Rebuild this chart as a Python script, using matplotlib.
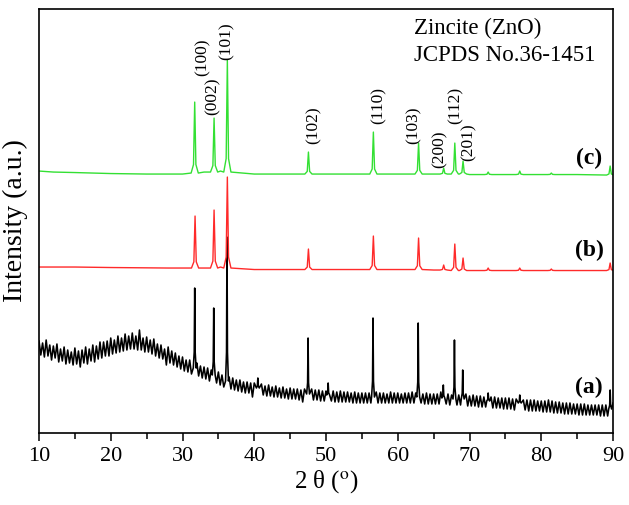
import matplotlib
matplotlib.use("Agg")
import matplotlib.pyplot as plt
import numpy as np
from matplotlib.ticker import MultipleLocator

plt.rcParams['font.family'] = ['Liberation Serif', 'DejaVu Serif']
plt.rcParams['mathtext.fontset'] = 'stix'

# (c) green trace: smooth baseline + peaks
c_base_x = [10, 12, 15, 20, 25, 30, 33.0, 35.3, 40, 45, 50, 55, 60, 65, 70, 75, 80, 85, 90]
c_base_y = [262, 261, 260.5, 259.5, 259, 259, 261, 262, 259, 259, 259, 259, 259, 259, 258.5, 258.5, 258.5, 258.5, 258]
c_peak_pos = [31.7, 34.4, 36.25, 47.55, 56.6, 62.9, 66.4, 67.95, 69.1, 72.6, 77.0, 81.4, 89.6]
c_peak_top = [331, 315, 373, 281, 301, 290, 265, 290, 272, 261, 262, 260, 267]
c_peak_foot = [260, 261, 261, 259, 259, 259, 259, 259, 259, 258.5, 258.5, 258.5, 258]

# (b) red trace
b_base_x = [10, 15, 20, 28, 33.0, 35.3, 40, 45, 50, 55, 60, 65, 70, 75, 80, 85, 90]
b_base_y = [166, 166, 165.5, 165, 165, 166, 163.5, 163.5, 163.5, 163.5, 163.5, 163, 162.5, 162.5, 162.5, 162.5, 162.5]
b_peak_pos = [31.75, 34.4, 36.25, 47.55, 56.6, 62.9, 66.4, 67.95, 69.1, 72.6, 77.0, 81.4, 89.6]
b_peak_top = [217, 223, 256, 184, 197, 195, 168, 189, 175, 165, 165, 164, 170]
b_peak_foot = [165, 165, 165, 163.5, 163.5, 163.5, 163, 162.5, 162.5, 162.5, 162.5, 162.5, 162.5]

# (a) black trace: noisy amorphous hump
# upper noise readings at 10, 10.5, ... 90 and lower readings at 10.25, 10.75, ... 89.75
a_hi = [92, 90, 93, 88, 87, 89, 84, 86, 83, 81, 85, 82, 83, 86, 84, 88, 87, 91, 91, 92,
        95, 93, 97, 95, 99, 97, 100, 97, 103, 95, 96, 93, 94, 89, 88, 84, 86, 82, 80, 77,
        76, 73, 73, 70, 70, 67, 66, 65, 63, 61, 61, 58, 57, 56, 55, 53, 53, 51, 51, 50,
        50, 49, 49, 47, 48, 46, 47, 45, 46, 44, 45, 44, 44, 43, 44, 43, 44, 43, 43, 42,
        42, 42, 42, 41, 42, 41, 41, 40, 41, 40, 40, 40, 40, 40, 41, 40, 40, 39, 41, 40,
        40, 39, 40, 40, 41, 40, 40, 39, 40, 39, 39, 39, 41, 41, 39, 38, 39, 38, 38, 39,
        37, 38, 37, 37, 36, 37, 36, 36, 35, 35, 35, 35, 34, 34, 36, 33, 33, 33, 33, 32,
        32, 32, 33, 32, 31, 31, 30, 30, 30, 29, 29, 29, 29, 28, 28, 28, 28, 28, 28, 28,
        30]
a_lo = [78, 76, 77, 73, 75, 71, 72, 69, 70, 68, 69, 66, 70, 69, 72, 71, 74, 75, 77, 77,
        79, 80, 81, 82, 83, 84, 84, 83, 83, 81, 81, 79, 77, 75, 74, 68, 70, 68, 66, 64,
        62, 61, 59, 58, 57, 55, 54, 52, 51, 50, 48, 46, 45, 44, 43, 42, 41, 40, 40, 36,
        39, 38, 38, 37, 37, 36, 36, 35, 35, 34, 34, 34, 33, 31, 33, 33, 33, 33, 32, 32,
        32, 32, 31, 31, 31, 31, 31, 30, 30, 30, 30, 30, 30, 30, 30, 30, 30, 30, 30, 30,
        30, 30, 30, 30, 30, 30, 30, 29, 29, 29, 29, 29, 30, 29, 28, 28, 28, 28, 28, 27,
        27, 27, 26, 26, 26, 26, 25, 25, 25, 24, 24, 24, 23, 24, 23, 23, 22, 22, 22, 22,
        21, 21, 21, 20, 20, 20, 19, 19, 19, 19, 18, 18, 18, 18, 18, 18, 17, 17, 17, 18]
a_peak_pos = [31.7, 34.35, 36.2, 40.5, 47.5, 50.3, 56.55, 62.85, 66.35, 67.9, 69.05, 72.6, 77.0, 89.6]
a_peak_top = [145, 125, 196, 55, 95, 50, 115, 110, 48, 93, 63, 40, 38, 43]
a_peak_foot = [65, 58, 52, 45, 39, 38, 36, 36, 35, 34, 34, 32, 30, 24]

hkl_labels = ['(100)', '(002)', '(101)', '(102)', '(110)', '(103)', '(200)', '(112)', '(201)']
hkl_x = [32.86, 34.25, 36.2, 48.33, 57.39, 62.26, 65.89, 68.12, 69.93]
hkl_y = [376, 337, 392, 308, 328, 308, 284, 328, 291]


def merge(bx, by, pos, top, foot, half, shoulder):
    bx = np.asarray(bx, float)
    by = np.asarray(by, float)
    pos = np.asarray(pos, float)
    top = np.asarray(top, float)
    foot = np.asarray(foot, float)
    keep = np.all(np.abs(bx[:, None] - pos[None, :]) > half + 0.05, axis=1)
    xs = [bx[keep]]
    ys = [by[keep]]
    mid = foot + shoulder * (top - foot)
    for dx, yy in [(-half, foot), (-half / 3, mid), (0, top), (half / 3, mid), (half, foot)]:
        xs.append(pos + dx)
        ys.append(yy)
    x = np.concatenate(xs)
    y = np.concatenate(ys)
    order = np.argsort(x)
    return x[order], y[order]


a_x = np.concatenate([10 + 0.5 * np.arange(len(a_hi)), 10.25 + 0.5 * np.arange(len(a_lo))])
a_y = np.concatenate([a_hi, a_lo])

fig = plt.figure(figsize=(6.29, 5.05), dpi=100)
ax = fig.add_axes([0.062, 0.1426, 0.9126, 0.8394])

ax_x, ax_y = merge(a_x, a_y, a_peak_pos, a_peak_top, a_peak_foot, 0.2, 0.2)
bx, by = merge(b_base_x, b_base_y, b_peak_pos, b_peak_top, b_peak_foot, 0.5, 0.12)
cx, cy = merge(c_base_x, c_base_y, c_peak_pos, c_peak_top, c_peak_foot, 0.5, 0.12)

ax.plot(ax_x, ax_y, color='black', lw=1.15)
ax.plot(bx, by, color='#ff2a2a', lw=1.0)
ax.plot(cx, cy, color='#33e033', lw=1.0)

for lab, x, y in zip(hkl_labels, hkl_x, hkl_y):
    ax.text(x, y, lab, rotation=90, ha='center', va='center', fontsize=12.5)

ax.text(62.26, 405, 'Zincite (ZnO)', ha='left', va='center', fontsize=16.5)
ax.text(62.26, 378, 'JCPDS No.36-1451', ha='left', va='center', fontsize=16.5)

ax.text(86.65, 275, '(c)', ha='center', va='center', fontsize=17, fontweight='bold')
ax.text(86.65, 183, '(b)', ha='center', va='center', fontsize=17, fontweight='bold')
ax.text(86.65, 46, '(a)', ha='center', va='center', fontsize=17, fontweight='bold')

ax.set_xlim(10, 90)
ax.set_ylim(0, 424)
ax.xaxis.set_major_locator(MultipleLocator(10))
ax.xaxis.set_minor_locator(MultipleLocator(5))
ax.tick_params(axis='x', which='major', direction='out', length=6, width=1.1, labelsize=16, pad=4)
ax.tick_params(axis='x', which='minor', direction='out', length=4, width=1.1)
ax.set_yticks([])
for s in ax.spines.values():
    s.set_linewidth(1.2)

ax.set_xlabel(r'2 θ ($^{\rm o}$)', fontsize=18, labelpad=2)
ax.set_ylabel('Intensity (a.u.)', fontsize=20, labelpad=8)

fig.savefig('out.png', dpi=100)
